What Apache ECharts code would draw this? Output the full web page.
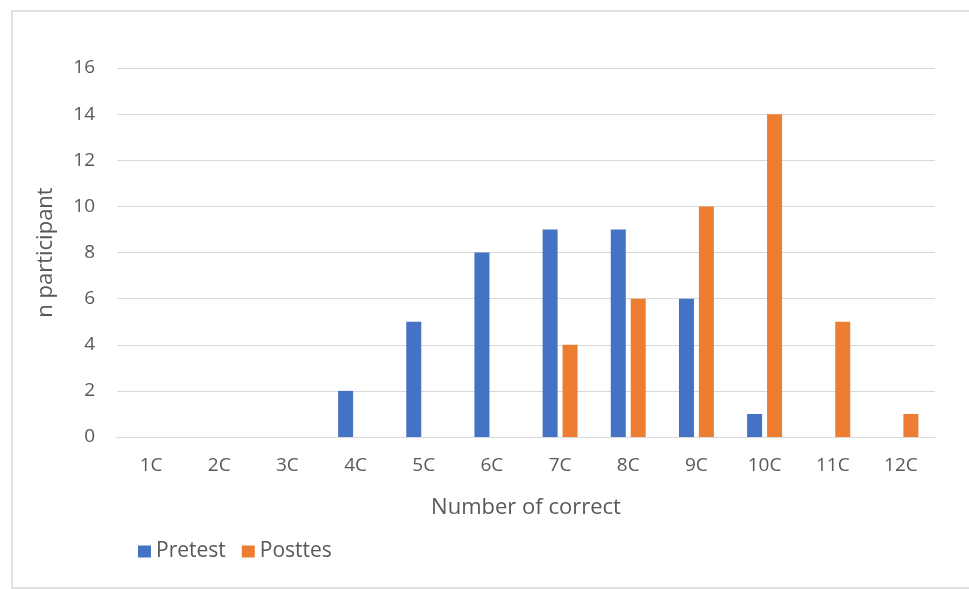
<!DOCTYPE html>
<html><head><meta charset="utf-8">
<script src="https://cdn.jsdelivr.net/npm/echarts@6/dist/echarts.min.js"></script>
<style>html,body{margin:0;padding:0;background:#fff}#c{width:969px;height:589px}</style>
</head><body><div id="c"></div>
<script>
const categories = ['1C','2C','3C','4C','5C','6C','7C','8C','9C','10C','11C','12C'];
const pretest = [0,0,0,2,5,8,9,9,6,1,0,0];
const posttest = [0,0,0,0,0,0,4,6,10,14,5,1];
const yTicks = {min:0, max:16, interval:2};
const seriesNames = ['Pretest','Posttes'];

const chart = echarts.init(document.getElementById('c'));
const txt = '#595959';
const font = 'Open Sans';
chart.setOption({
  animation:false,
  graphic:[{type:'rect',shape:{x:12,y:11,width:970,height:577},style:{fill:'none',stroke:'#d9d9d9',lineWidth:1.5},z:-1}],
  grid:{left:117,right:34,top:68,bottom:152},
  legend:{left:133,top:536,itemWidth:13,itemHeight:12,itemGap:16,icon:'rect',
    textStyle:{color:txt,fontSize:21,fontFamily:font},data:seriesNames},
  xAxis:{type:'category',data:categories,
    axisLine:{lineStyle:{color:'#d9d9d9'}},axisTick:{show:false},
    axisLabel:{color:txt,fontSize:19,fontFamily:font,margin:19},
    name:'Number of correct',nameLocation:'middle',nameGap:60,
    nameTextStyle:{color:txt,fontSize:22,fontFamily:font}},
  yAxis:{type:'value',min:yTicks.min,max:yTicks.max,interval:yTicks.interval,
    axisLine:{show:false},axisTick:{show:false},
    splitLine:{lineStyle:{color:'#d9d9d9'}},
    axisLabel:{color:txt,fontSize:19,fontFamily:font,margin:22},
    name:'n participant',nameLocation:'middle',nameGap:60,
    nameTextStyle:{color:txt,fontSize:22,fontFamily:font}},
  series:[
    {name:seriesNames[0],type:'bar',data:pretest,barWidth:15,barGap:'33%',itemStyle:{color:'#4472C4'}},
    {name:seriesNames[1],type:'bar',data:posttest,barWidth:15,barGap:'33%',itemStyle:{color:'#ED7D31'}}
  ]
});
</script></body></html>
